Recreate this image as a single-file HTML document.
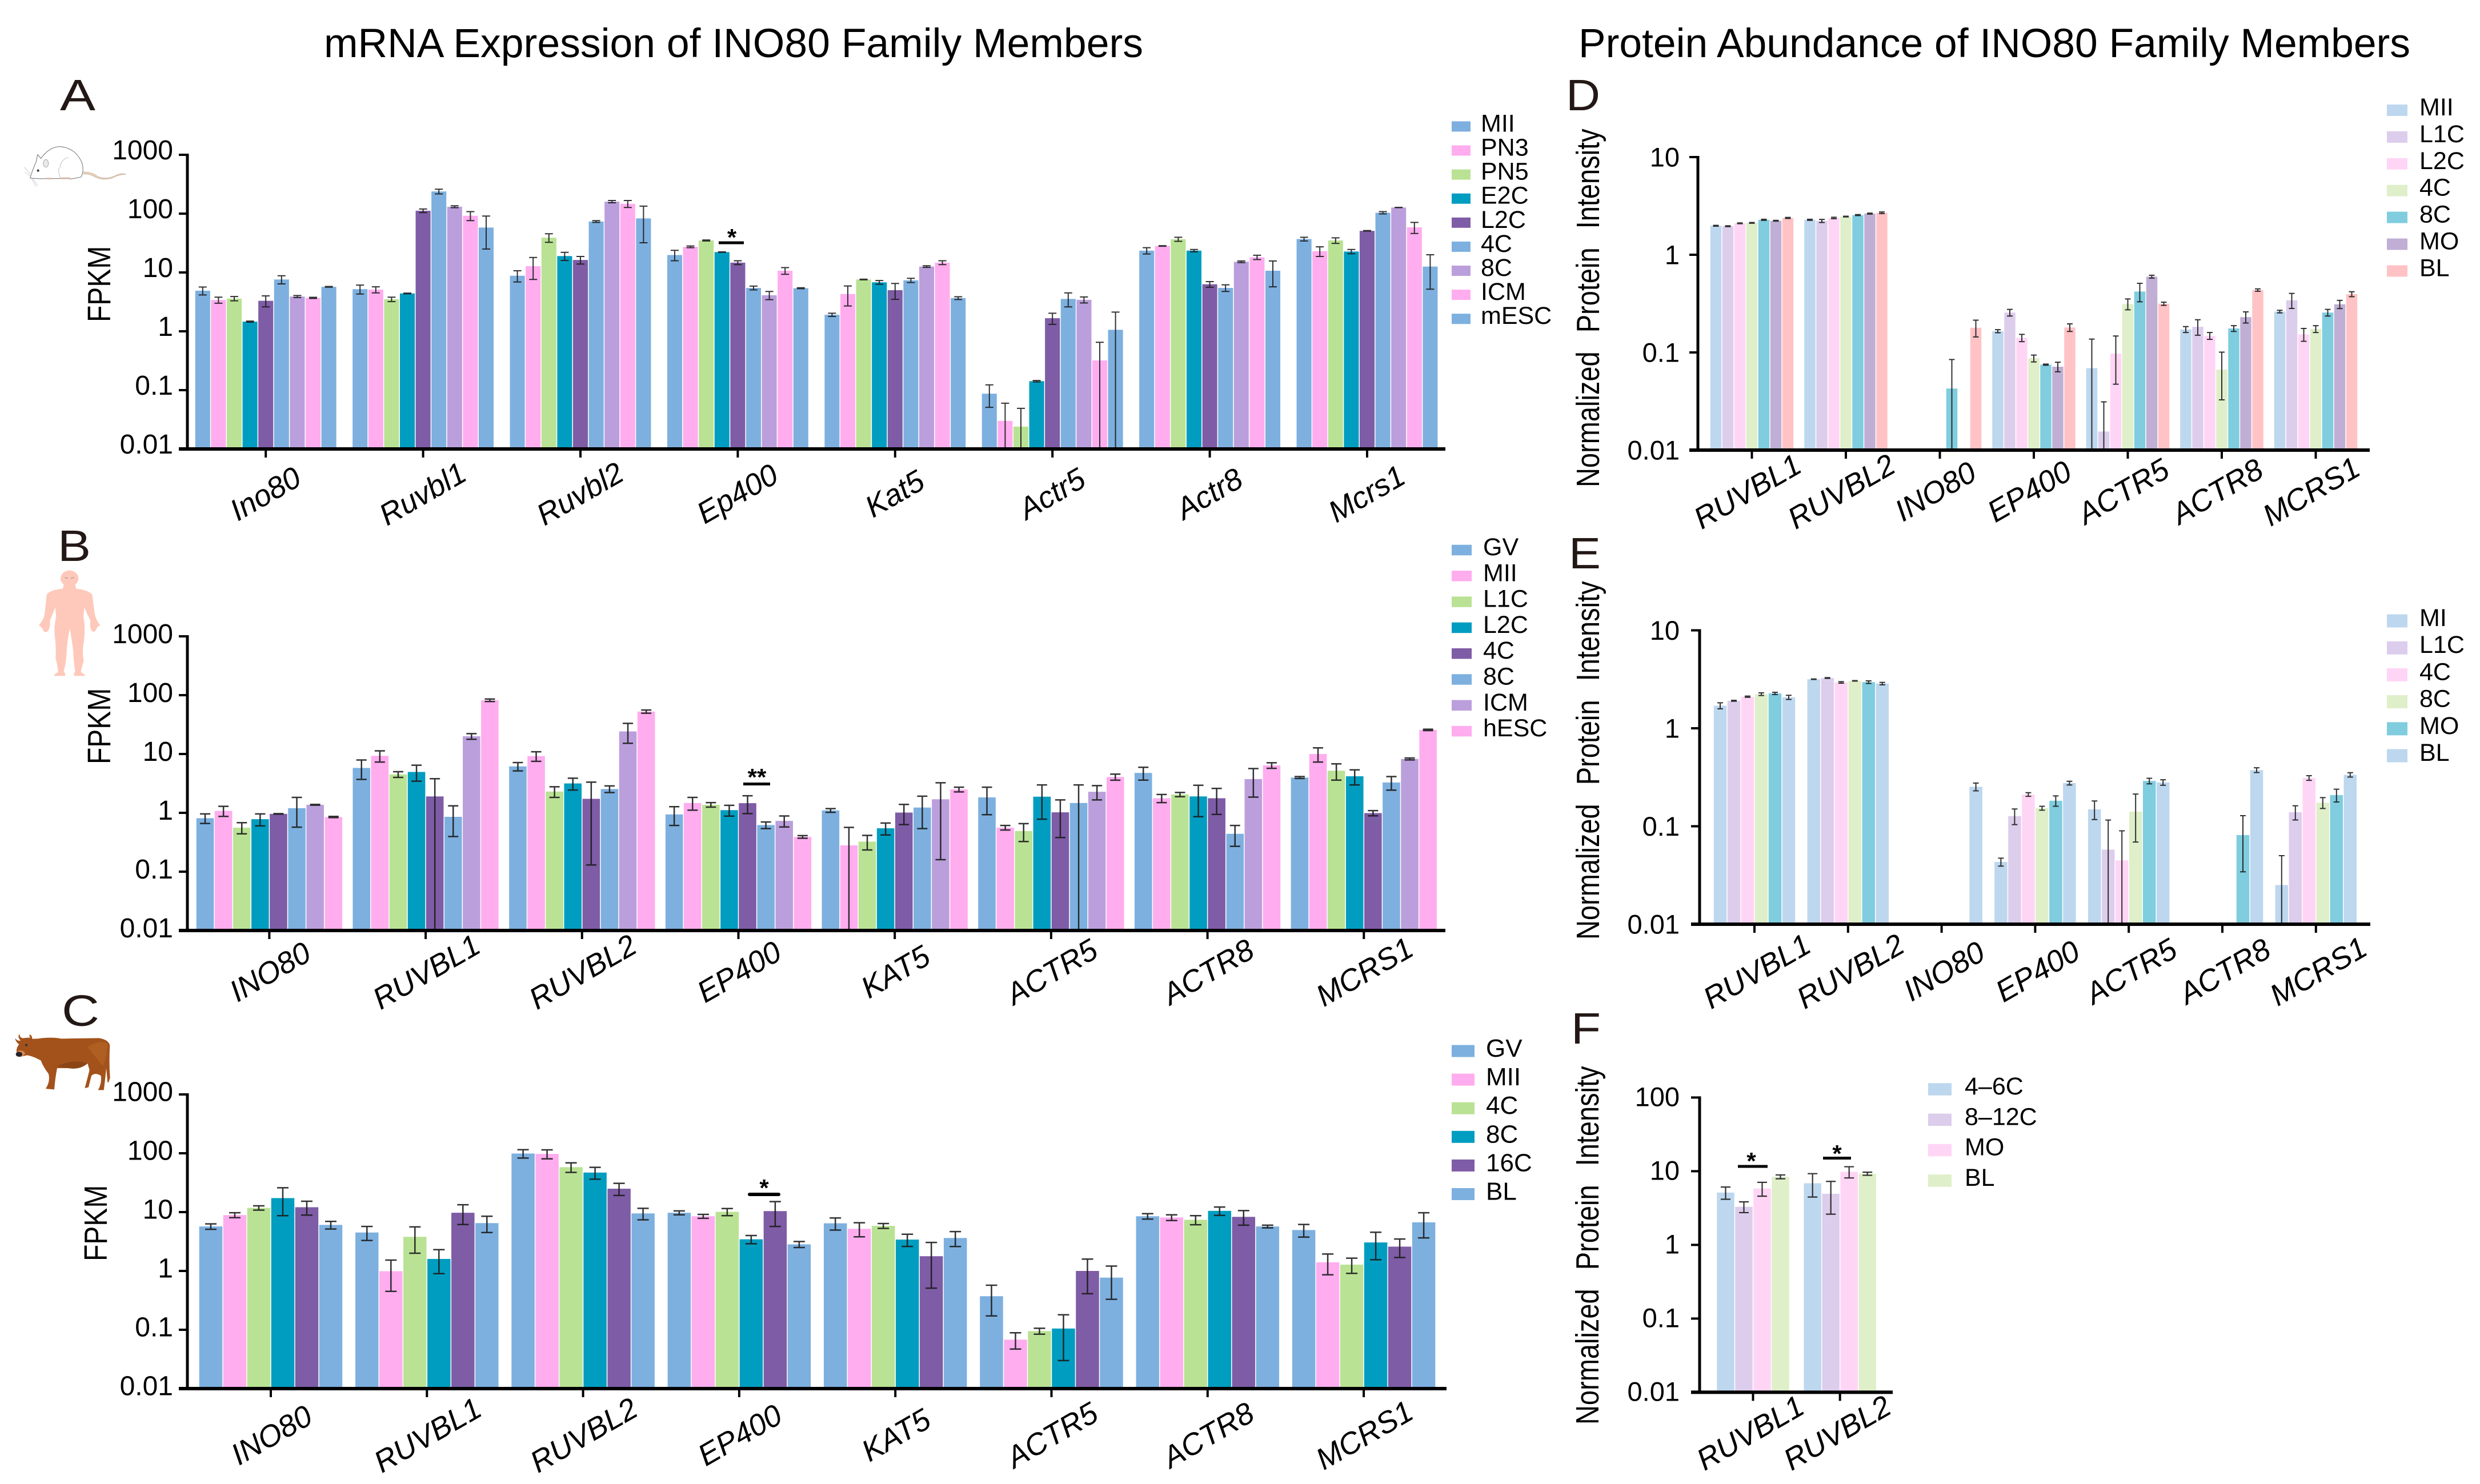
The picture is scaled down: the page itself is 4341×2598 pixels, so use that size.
<!DOCTYPE html>
<html lang="en">
<head>
<meta charset="utf-8">
<title>INO80 Family Members: mRNA Expression and Protein Abundance</title>
<style>
html,body{margin:0;padding:0;background:#fff;}
svg{display:block;}
text{font-family:"Liberation Sans",Arial,sans-serif;fill:#000;}
.panel-letter{font-size:77px;fill:#231815;}
.main-title{font-size:71px;}
.y-title{font-size:47px;word-spacing:20px;}
.star{font-size:42px;font-weight:bold;text-anchor:middle;}
</style>
</head>
<body>
<svg id="figure" xmlns="http://www.w3.org/2000/svg" width="4341" height="2598" viewBox="0 0 4341 2598">
  <rect width="4341" height="2598" fill="#fff"/>

  <text class="main-title" x="567" y="100" textLength="1434" lengthAdjust="spacingAndGlyphs">mRNA Expression of INO80 Family Members</text>
  <text class="main-title" x="2763" y="100" textLength="1456" lengthAdjust="spacingAndGlyphs">Protein Abundance of INO80 Family Members</text>

  <text class="panel-letter" x="105" y="193" textLength="62" lengthAdjust="spacingAndGlyphs">A</text>
  <text class="panel-letter" x="101" y="982" textLength="58" lengthAdjust="spacingAndGlyphs">B</text>
  <text class="panel-letter" x="108" y="1796" textLength="66" lengthAdjust="spacingAndGlyphs">C</text>
  <text class="panel-letter" x="2741" y="193" textLength="60" lengthAdjust="spacingAndGlyphs">D</text>
  <text class="panel-letter" x="2746" y="995" textLength="56" lengthAdjust="spacingAndGlyphs">E</text>
  <text class="panel-letter" x="2750" y="1827" textLength="52" lengthAdjust="spacingAndGlyphs">F</text>

  <text font-size="48" transform="translate(193,564) rotate(-90) scale(1,1.17)">FPKM</text>
  <text font-size="48" transform="translate(193,1338) rotate(-90) scale(1,1.17)">FPKM</text>
  <text font-size="48" transform="translate(187,2208) rotate(-90) scale(1,1.17)">FPKM</text>
  <text class="y-title" transform="translate(2799,853) rotate(-90) scale(1,1.2)">Normalized Protein Intensity</text>
  <text class="y-title" transform="translate(2799,1645) rotate(-90) scale(1,1.2)">Normalized Protein Intensity</text>
  <text class="y-title" transform="translate(2798,2494) rotate(-90) scale(1,1.2)">Normalized Protein Intensity</text>

  <g transform="scale(0.3333)">
    <path d="M440 903 Q490 905 510 925 Q550 945 600 925 Q640 905 662 915 Q620 918 590 935 Q540 950 500 930 Q470 912 438 915 Z" fill="#ecd0b8" stroke="#b9a898" stroke-width="2"/>
    <path d="M158 935 Q175 880 190 850 L197 812 L215 832 Q255 775 310 770 Q400 775 432 860 Q442 900 425 930 L375 940 L320 938 L240 938 Q195 940 158 935 Z" fill="#fff" stroke="#707070" stroke-width="3"/>
    <path d="M315 880 Q320 835 362 826 M310 880 Q305 915 320 938" fill="none" stroke="#a0a0a0" stroke-width="2"/>
    <ellipse cx="241" cy="858" rx="14" ry="20" fill="#e8e8e8" stroke="#8a8a8a" stroke-width="2"/>
    <circle cx="200" cy="896" r="6" fill="#333"/>
    <path d="M160 915 L128 878 M160 925 L130 905 M165 938 L190 980 M172 938 L198 975" stroke="#b5b5b5" stroke-width="2" fill="none"/>
    <rect x="240" y="934" width="40" height="8" rx="4" fill="#d8b8a8"/>
    <rect x="320" y="932" width="50" height="9" rx="4" fill="#d8b8a8"/>
  </g>

  <g transform="translate(0,900) scale(0.3333)">
    <ellipse cx="365" cy="338" rx="47" ry="42" fill="#fec9ba"/>
    <path d="M335 370 L395 370 L400 392 Q470 400 485 425 Q490 470 497 520 Q502 555 527 585 Q510 590 508 600 Q495 630 480 610 Q470 590 475 560 Q455 520 443 490 L438 540 Q450 600 440 670 Q430 730 440 770 Q425 820 425 830 Q450 845 447 850 L390 850 Q385 840 395 825 Q385 770 385 720 Q375 650 367 600 Q355 650 350 720 Q350 770 335 825 Q345 840 342 850 L283 850 Q285 840 305 830 Q305 800 292 760 Q295 700 290 660 Q280 600 295 540 L290 490 Q275 530 262 560 Q265 590 255 610 Q235 635 222 600 Q215 590 203 585 Q230 555 235 520 Q240 470 245 425 Q255 400 330 392 Z" fill="#fec9ba"/>
    <path d="M340 333 L357 337 M372 337 L390 333" stroke="#b09a90" stroke-width="4" fill="none"/>
  </g>

  <g transform="translate(0,1720) scale(0.3333)">
    <path d="M90 375 Q80 350 100 325 Q85 315 78 293 Q95 310 108 305 Q90 285 102 270 Q105 295 125 292 Q145 290 160 290 Q150 280 158 273 Q172 285 168 296 L200 295 Q270 285 320 295 L520 292 Q570 300 577 330 Q572 420 578 500 Q570 530 565 525 L558 450 L555 480 Q550 530 545 565 L515 565 Q535 530 530 490 Q500 470 480 490 L465 550 L445 555 Q455 520 470 460 L460 425 Q420 460 360 450 L300 450 Q290 500 285 562 L240 558 Q265 520 255 480 Q225 440 215 410 Q170 385 140 382 Q105 395 90 375 Z" fill="#a3521b"/>
    <path d="M460 340 Q520 300 565 320 Q560 400 540 440 Q510 400 460 340 Z" fill="#b05f22"/>
    <path d="M300 440 Q380 400 460 425 Q420 460 360 450 Z" fill="#8c4516"/>
    <path d="M92 360 Q120 350 132 372 Q125 390 105 392 Z" fill="#d98a55"/>
    <ellipse cx="100" cy="377" rx="17" ry="13" fill="#26242a"/>
    <circle cx="138" cy="329" r="6" fill="#24323a"/>
  </g>

  <g id="panels"></g>

  <g>
    <rect x="1258" y="422.5" width="44" height="5" fill="#000"/>
    <text class="star" x="1281" y="430">*</text>
  </g>
  <g>
    <rect x="1301" y="1370" width="47" height="5" fill="#000"/>
    <text class="star" x="1325" y="1375">**</text>
  </g>
  <g>
    <rect x="1309" y="2088" width="57" height="6" rx="3" fill="#000"/>
    <text class="star" x="1337.5" y="2094">*</text>
  </g>
  <g>
    <rect x="3042" y="2039.5" width="52" height="5" fill="#000"/>
    <text class="star" x="3065.5" y="2047">*</text>
  </g>
  <g>
    <rect x="3191" y="2025" width="49" height="5" fill="#000"/>
    <text class="star" x="3215.5" y="2034">*</text>
  </g>
</svg>

<script>
/* ---------- Panel A: mouse mRNA ---------- */
const panelAStages = ['MII','PN3','PN5','E2C','L2C','4C','8C','ICM','mESC'];
const panelAGenes = ['Ino80','Ruvbl1','Ruvbl2','Ep400','Kat5','Actr5','Actr8','Mcrs1'];
const panelATicks = [0.01,0.1,1,10,100,1000];
const panelAValues = [
  [4.9,3.4,3.6,1.46,3.3,7.6,3.9,3.7,5.7],
  [5.2,5.1,3.5,4.4,112,238,131,92,58],
  [8.8,12.8,39,19,16.3,73.5,160,147,83],
  [19.8,27.3,35,22.2,14.7,5.46,4.1,10.7,5.4],
  [1.91,4.3,7.6,6.8,5.0,7.35,12.6,14.7,3.67],
  [0.087,0.030,0.024,0.142,1.67,3.55,3.43,0.32,1.06],
  [23.5,28.2,36.7,23.5,6.3,5.46,15.2,18.1,10.7],
  [37,23,35,22.7,51,103.5,127,58.5,12.6]
];
const panelAErrors = [
  [0.75,0.4,0.3,0.03,0.7,1.2,0.15,0.08,0.08],
  [0.9,0.6,0.3,0.06,8,22,5,16,33],
  [1.9,5.2,6.5,3,2.4,2.5,7,20,51],
  [4,0.9,0.7,0.2,1.1,0.4,0.65,1.4,0.1],
  [0.12,1.6,0.1,0.5,1.5,0.6,0.4,1.1,0.2],
  [0.036,0.03,0.025,0.004,0.36,0.95,0.4,0.33,1.06],
  [2.9,0.3,2.9,1.1,0.7,0.7,0.5,1.5,5],
  [2.7,4.3,3.8,1.9,0.5,4.5,0.7,12.5,7.4]
];

/* ---------- Panel B: human mRNA ---------- */
const panelBStages = ['GV','MII','L1C','L2C','4C','8C','ICM','hESC'];
const panelBGenes = ['INO80','RUVBL1','RUVBL2','EP400','KAT5','ACTR5','ACTR8','MCRS1'];
const panelBTicks = [0.01,0.1,1,10,100,1000];
const panelBValues = [
  [0.81,1.08,0.56,0.78,0.96,1.2,1.37,0.85],
  [5.8,9.3,4.5,4.95,1.9,0.855,20,82],
  [6.16,9.2,2.3,3.16,1.73,2.54,24.2,52.6],
  [0.94,1.47,1.37,1.11,1.46,0.62,0.73,0.39],
  [1.1,0.28,0.324,0.546,1.01,1.23,1.7,2.5],
  [1.83,0.56,0.49,1.88,1.02,1.47,2.28,4.07],
  [4.77,1.77,2.05,1.9,1.77,0.44,3.75,6.4],
  [3.98,10,5.2,4.18,0.99,3.28,8.24,25.7]
];
const panelBErrors = [
  [0.15,0.21,0.12,0.18,0.01,0.63,0.02,0.02],
  [2.1,2,0.5,1.5,1.9,0.46,2.2,4],
  [1,1.7,0.47,0.72,1.6,0.33,9,3.3],
  [0.33,0.36,0.12,0.23,0.49,0.08,0.155,0.02],
  [0.08,0.286,0.09,0.125,0.38,0.69,1.54,0.23],
  [0.9,0.05,0.165,1.1,0.64,1.51,0.62,0.48],
  [1.17,0.28,0.17,1.04,0.83,0.17,1.9,0.7],
  [0.15,2.7,1.6,1.2,0.1,0.85,0.3,0.7]
];

/* ---------- Panel C: bovine mRNA ---------- */
const panelCStages = ['GV','MII','4C','8C','16C','BL'];
const panelCGenes = ['INO80','RUVBL1','RUVBL2','EP400','KAT5','ACTR5','ACTR8','MCRS1'];
const panelCTicks = [0.01,0.1,1,10,100,1000];
const panelCValues = [
  [5.7,8.9,11.8,17.3,12.1,6.06],
  [4.5,0.99,3.8,1.6,9.75,6.5],
  [99,97.5,58,47,25,9.5],
  [9.75,8.5,10.1,3.45,10.4,2.83],
  [6.45,5.2,5.84,3.41,1.78,3.63],
  [0.372,0.068,0.095,0.105,1,0.77],
  [8.5,8.1,7.4,10.5,8.3,5.7],
  [4.96,1.4,1.28,3.05,2.59,6.7]
];
const panelCErrors = [
  [0.6,0.85,1,8.6,3.2,0.9],
  [1.2,0.54,1.8,0.7,3.6,2],
  [16,17,10.7,10.7,5.8,2.1],
  [0.75,0.65,1.4,0.55,4.7,0.33],
  [1.5,1.4,0.55,0.8,1.27,1.03],
  [0.2,0.021,0.011,0.075,0.59,0.44],
  [0.9,0.9,1.3,1.7,2.3,0.3],
  [1.2,0.54,0.37,1.5,0.9,3.05]
];

/* ---------- Panel D: protein abundance ---------- */
const panelDStages = ['MII','L1C','L2C','4C','8C','MO','BL'];
const panelDGenes = ['RUVBL1','RUVBL2','INO80','EP400','ACTR5','ACTR8','MCRS1'];
const panelDTicks = [0.01,0.1,1,10];
const panelDValues = [
  [1.98,1.96,2.1,2.12,2.28,2.23,2.38],
  [2.28,2.22,2.38,2.46,2.55,2.64,2.69],
  [0,0,0,0,0.0427,0,0.179],
  [0.165,0.256,0.141,0.087,0.075,0.0714,0.18],
  [0.069,0.0155,0.0973,0.313,0.42,0.597,0.315],
  [0.172,0.183,0.148,0.0667,0.176,0.23,0.435],
  [0.262,0.342,0.153,0.174,0.256,0.311,0.395]
];
const panelDErrors = [
  [0.02,0.02,0.02,0.02,0.03,0.02,0.03],
  [0.03,0.08,0.04,0.02,0.03,0.03,0.05],
  [0,0,0,0,0.042,0,0.035],
  [0.006,0.02,0.012,0.007,0.001,0.008,0.016],
  [0.068,0.0157,0.05,0.04,0.09,0.02,0.012],
  [0.012,0.033,0.012,0.034,0.012,0.03,0.012],
  [0.008,0.06,0.023,0.014,0.02,0.03,0.023]
];

/* ---------- Panel E: protein abundance ---------- */
const panelEStages = ['MI','L1C','4C','8C','MO','BL'];
const panelEGenes = ['RUVBL1','RUVBL2','INO80','EP400','ACTR5','ACTR8','MCRS1'];
const panelETicks = [0.01,0.1,1,10];
const panelEValues = [
  [1.7,1.91,2.1,2.23,2.27,2.07],
  [3.17,3.26,2.94,3.05,2.96,2.86],
  [0,0,0,0,0,0.253],
  [0.0432,0.127,0.211,0.153,0.182,0.276],
  [0.149,0.0577,0.0448,0.141,0.29,0.28],
  [0,0,0,0,0.0813,0.374],
  [0.0251,0.139,0.311,0.174,0.208,0.335]
];
const panelEErrors = [
  [0.12,0.02,0.03,0.07,0.06,0.1],
  [0.02,0.03,0.05,0.02,0.09,0.08],
  [0,0,0,0,0,0.023],
  [0.004,0.023,0.009,0.007,0.022,0.012],
  [0.032,0.058,0.045,0.072,0.019,0.018],
  [0,0,0,0,0.047,0.021],
  [0.025,0.023,0.017,0.022,0.031,0.017]
];

/* ---------- Panel F: protein abundance ---------- */
const panelFStages = ['4\u20136C','8\u201312C','MO','BL'];
const panelFGenes = ['RUVBL1','RUVBL2'];
const panelFTicks = [0.01,0.1,1,10,100];
const panelFValues = [
  [5.13,3.29,5.82,8.4],
  [6.86,4.94,9.8,9.25]
];
const panelFErrors = [
  [0.97,0.55,1.24,0.5],
  [2.4,2.33,1.7,0.45]
];

/* ---------- Styling and layout (no data here) ---------- */
const vividColors9 = ['#7db0df','#ffadef','#bae294','#009dc0','#7f5ca6','#7db0df','#bb9fdc','#ffadef','#7db0df'];
const vividColors8 = ['#7db0df','#ffadef','#bae294','#009dc0','#7f5ca6','#7db0df','#bb9fdc','#ffadef'];
const vividColors6 = ['#7db0df','#ffadef','#bae294','#009dc0','#7f5ca6','#7db0df'];
const paleColorsD = ['#bdd7ee','#ddcdec','#ffd5f5','#dfefc9','#7fcddf','#c0aed4','#ffc3c6'];
const paleColorsE = ['#bdd7ee','#ddcdec','#ffd5f5','#dfefc9','#7fcddf','#bdd7ee'];
const paleColorsF = ['#bdd7ee','#ddcdec','#ffd5f5','#dfefc9'];

const SVG_NS = 'http://www.w3.org/2000/svg';
const panelsRoot = document.getElementById('panels');

function make(tag, attrs, parent) {
  const node = document.createElementNS(SVG_NS, tag);
  for (const key in attrs) node.setAttribute(key, attrs[key]);
  parent.appendChild(node);
  return node;
}

function drawPanel(p) {
  const group = make('g', {}, panelsRoot);
  
  

  const minLog = Math.log10(p.ticks[0]);
  const yScale = v => p.baseY - (Math.log10(v) - minLog) * p.decade;
  const xScale = (g, s) => p.barStart + g * p.groupStep + s * p.barW;
  const topY = yScale(p.ticks[p.ticks.length - 1]);
  const nStages = p.stages.length;

  p.values.forEach((row, g) => {
    row.forEach((value, s) => {
      if (!(value > 0)) return;
      const x = xScale(g, s);
      const y = yScale(value);
      const bar = make('rect', {x: x + 0.75, y: y, width: p.barW - 1.5, height: p.baseY - y, fill: p.colors[s]}, group);
      
      
    });
  });

  p.values.forEach((row, g) => {
    row.forEach((value, s) => {
      if (!(value > 0)) return;
      const err = p.errors[g][s];
      const cx = xScale(g, s) + p.barW / 2;
      const yHi = yScale(value + err);
      const lowVal = value - err;
      const clipped = lowVal <= p.ticks[0];
      const yLo = clipped ? p.baseY : yScale(lowVal);
      const half = p.capW / 2;
      let d = 'M' + cx + ' ' + yHi + 'L' + cx + ' ' + yLo + 'M' + (cx - half) + ' ' + yHi + 'L' + (cx + half) + ' ' + yHi;
      if (!clipped) d += 'M' + (cx - half) + ' ' + yLo + 'L' + (cx + half) + ' ' + yLo;
      const errorBar = make('path', {d: d, stroke: '#1c1c1c', 'stroke-width': p.errW, fill: 'none', 'stroke-opacity': 0.9}, group);
      
      
    });
  });

  const yAxis = make('line', {x1: p.axisX, x2: p.axisX, y1: topY - 2, y2: p.baseY, stroke: '#000', 'stroke-width': 5}, group);
  
  

  const xAxis = make('line', {x1: p.axisX - 15, x2: p.axisEnd, y1: p.baseY, y2: p.baseY, stroke: '#000', 'stroke-width': 6}, group);
  
  

  p.ticks.forEach(t => {
    const y = yScale(t);
    const tick = make('line', {x1: p.axisX - 15, x2: p.axisX, y1: y, y2: y, stroke: '#000', 'stroke-width': 4}, group);
    
    
    const label = make('text', {x: p.yLabelX, y: y + p.yLabelDy, 'font-size': p.tickFont, 'text-anchor': 'end'}, group);
    label.textContent = String(t);
    
    
  });

  p.genes.forEach((gene, g) => {
    const cx = xScale(g, nStages / 2);
    const tick = make('line', {x1: cx, x2: cx, y1: p.baseY, y2: p.baseY + 15, stroke: '#000', 'stroke-width': 4}, group);
    
    
    const lx = cx + p.xLabelDx;
    const ly = p.xLabelY;
    const label = make('text', {
      x: lx, y: ly + p.xFont * 0.35, 'font-size': p.xFont, 'font-style': 'italic', 'text-anchor': 'middle',
      transform: 'rotate(' + p.xAngle + ' ' + lx + ' ' + ly + ')'
    }, group);
    label.textContent = gene;
    
    
  });

  p.stages.forEach((stage, s) => {
    const cy = p.legY + s * p.legStep;
    const swatch = make('rect', {x: p.legX, y: cy - p.legH / 2, width: p.legW, height: p.legH, fill: p.colors[s]}, group);
    
    
    const label = make('text', {x: p.legTextX, y: cy + p.legDy, 'font-size': p.legFont}, group);
    label.textContent = stage;
    
    
  });
}

drawPanel({id:'a', stages:panelAStages, genes:panelAGenes, ticks:panelATicks, values:panelAValues, errors:panelAErrors, colors:vividColors9,
  baseY:786, decade:103, axisX:328, axisEnd:2530, barStart:341, groupStep:275.4, barW:27.6, capW:14, errW:2,
  yLabelX:303, yLabelDy:8, tickFont:48, xFont:53, xAngle:-30, xLabelDx:-1, xLabelY:864,
  legX:2541, legW:33, legH:18, legY:221.4, legStep:42.1, legTextX:2592, legDy:9, legFont:43});

drawPanel({id:'b', stages:panelBStages, genes:panelBGenes, ticks:panelBTicks, values:panelBValues, errors:panelBErrors, colors:vividColors8,
  baseY:1629, decade:103, axisX:328, axisEnd:2530, barStart:343, groupStep:273.7, barW:32.1, capW:18, errW:2.5,
  yLabelX:303, yLabelDy:12, tickFont:48, xFont:53, xAngle:-30, xLabelDx:1, xLabelY:1701,
  legX:2541, legW:35, legH:18.5, legY:963, legStep:45.3, legTextX:2596, legDy:9, legFont:43});

drawPanel({id:'c', stages:panelCStages, genes:panelCGenes, ticks:panelCTicks, values:panelCValues, errors:panelCErrors, colors:vividColors6,
  baseY:2431, decade:103, axisX:328, axisEnd:2532, barStart:348, groupStep:273.3, barW:42, capW:20, errW:2.5,
  yLabelX:303, yLabelDy:11.5, tickFont:48, xFont:53, xAngle:-30, xLabelDx:1, xLabelY:2512,
  legX:2541, legW:40, legH:21, legY:1840, legStep:50.1, legTextX:2601, legDy:10, legFont:44});

drawPanel({id:'d', stages:panelDStages, genes:panelDGenes, ticks:panelDTicks, values:panelDValues, errors:panelDErrors, colors:paleColorsD,
  baseY:788, decade:171, axisX:2972, axisEnd:4148, barStart:2993, groupStep:164.5, barW:21, capW:10, errW:2,
  yLabelX:2940, yLabelDy:16.5, tickFont:47, xFont:53, xAngle:-30, xLabelDx:-8, xLabelY:860,
  legX:4178, legW:36, legH:20, legY:193, legStep:46.9, legTextX:4235, legDy:9, legFont:43});

drawPanel({id:'e', stages:panelEStages, genes:panelEGenes, ticks:panelETicks, values:panelEValues, errors:panelEErrors, colors:paleColorsE,
  baseY:1618, decade:171.5, axisX:2975, axisEnd:4149, barStart:2999, groupStep:163.8, barW:24, capW:10, errW:2,
  yLabelX:2940, yLabelDy:16.5, tickFont:47, xFont:53, xAngle:-30, xLabelDx:4, xLabelY:1700,
  legX:4178, legW:36, legH:23, legY:1087, legStep:47.2, legTextX:4235, legDy:9, legFont:43});

drawPanel({id:'f', stages:panelFStages, genes:panelFGenes, ticks:panelFTicks, values:panelFValues, errors:panelFErrors, colors:paleColorsF,
  baseY:2437.4, decade:129, axisX:2975, axisEnd:3313, barStart:3004.5, groupStep:152.2, barW:32, capW:17, errW:2.2,
  yLabelX:2940, yLabelDy:15, tickFont:47, xFont:53, xAngle:-30, xLabelDx:-5, xLabelY:2508,
  legX:3375, legW:41, legH:21.5, legY:1907, legStep:53.3, legTextX:3439, legDy:9, legFont:43});
</script>
</body>
</html>
